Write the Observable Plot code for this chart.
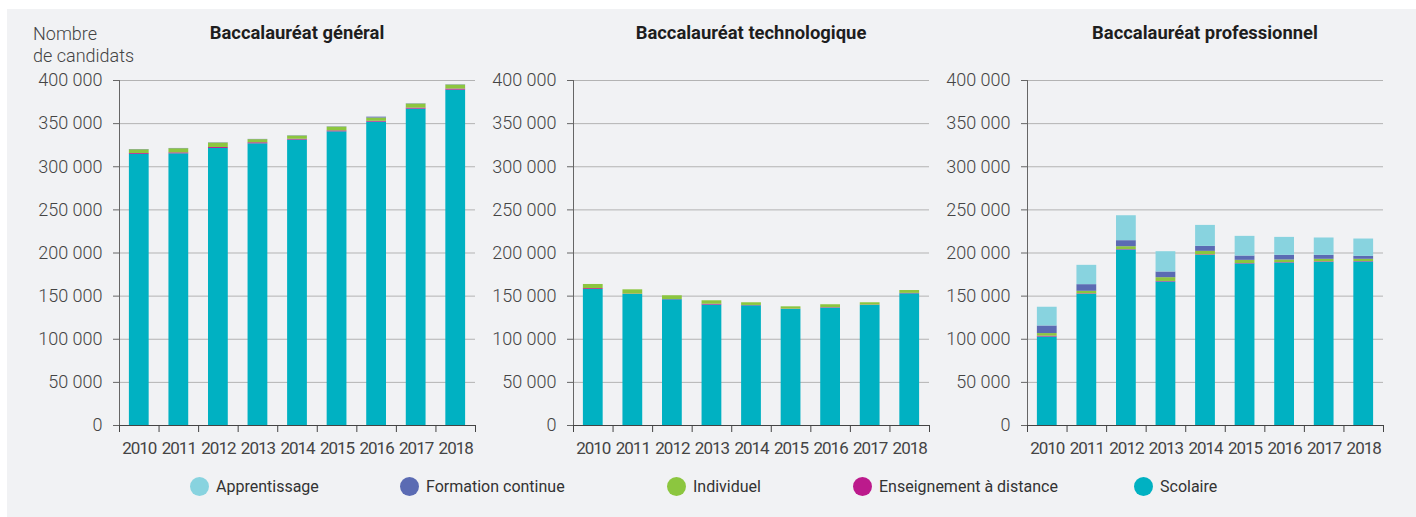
<!DOCTYPE html>
<html><head><meta charset="utf-8">
<script src="https://cdn.jsdelivr.net/npm/d3@7"></script>
<script src="https://cdn.jsdelivr.net/npm/@observablehq/plot@0.6"></script>
<style>
body{margin:0;width:1416px;height:517px;background:#fff;font-family:Roboto,sans-serif;overflow:hidden;position:relative}
#bg{position:absolute;left:7px;top:9px;right:0;bottom:0;background:#f1f2f4}
.panel{position:absolute;top:60px}
.title{position:absolute;font-weight:700;font-size:18.4px;line-height:18px;color:#1e1e1e;text-align:center;width:356px;top:24px;white-space:nowrap}
.ylab{position:absolute;left:33px;top:23px;font-size:18px;font-weight:300;line-height:22px;color:#444}
.legend-item{position:absolute;top:477px;display:flex;align-items:center;font-size:16px;color:#333;white-space:nowrap}
.sw{width:19px;height:19px;border-radius:50%;margin-right:7px;flex:none}
g[aria-label="x-axis tick label"] text{letter-spacing:-1px}
</style></head>
<body>
<div id="bg"></div>
<div class="ylab">Nombre<br>de candidats</div>
<div id="root"></div>
<script>
// ---- data (thousands of candidates) ----
const years = [2010, 2011, 2012, 2013, 2014, 2015, 2016, 2017, 2018];
const types = ["Scolaire", "Enseignement à distance", "Individuel", "Formation continue", "Apprentissage"];
const legendOrder = ["Apprentissage", "Formation continue", "Individuel", "Enseignement à distance", "Scolaire"];
const typeColors = ["#00b1c2", "#bc1a8c", "#8cc63f", "#5b6bb3", "#88d3df"];
const panelTitles = ["Baccalauréat général", "Baccalauréat technologique", "Baccalauréat professionnel"];
const yTicks = [0, 50000, 100000, 150000, 200000, 250000, 300000, 350000, 400000];

const generalScolaire    = [314.3, 315.0, 321.2, 326.6, 330.9, 340.5, 351.7, 366.8, 388.8];
const generalDistance    = [1.0, 1.1, 1.1, 1.2, 1.0, 1.1, 1.0, 1.2, 1.3];
const generalIndividuel  = [4.4, 4.8, 5.2, 3.6, 3.7, 4.4, 3.8, 4.7, 4.6];
const generalFormation   = [0.3, 0.3, 0.3, 0.3, 0.3, 0.3, 1.0, 0.3, 0.3];
const generalApprentis   = [0, 0, 0, 0, 0, 0, 0, 0, 0];

const technoScolaire     = [157.7, 151.9, 145.8, 139.6, 138.8, 134.6, 136.1, 139.2, 152.7];
const technoDistance     = [1.0, 0.4, 0.3, 1.0, 0.4, 0.3, 0.5, 0.4, 0.5];
const technoIndividuel   = [4.8, 5.0, 4.3, 4.0, 3.1, 2.7, 3.4, 2.7, 3.3];
const technoFormation    = [0, 0, 0, 0, 0, 0, 0, 0, 0];
const technoApprentis    = [0, 0, 0, 0, 0, 0, 0, 0, 0];

const proScolaire        = [102.6, 152.1, 203.5, 166.4, 197.3, 187.3, 188.4, 189.2, 189.6];
const proDistance        = [1.0, 0.6, 0.5, 0.6, 0.6, 0.5, 0.5, 0.6, 0.5];
const proIndividuel      = [3.0, 2.9, 3.3, 4.4, 4.0, 3.7, 3.0, 2.9, 2.6];
const proFormation       = [8.8, 7.7, 7.0, 6.6, 5.8, 5.0, 5.4, 4.6, 3.4];
const proApprentis       = [21.7, 22.4, 28.9, 23.5, 24.3, 22.8, 20.8, 20.1, 20.1];

const panels = [
  [generalScolaire, generalDistance, generalIndividuel, generalFormation, generalApprentis],
  [technoScolaire, technoDistance, technoIndividuel, technoFormation, technoApprentis],
  [proScolaire, proDistance, proIndividuel, proFormation, proApprentis]
];

const fmt = d => d3.format(",")(d).replace(/,/g, " ");
const bounds = years.map(y => y - 0.5).concat([years[years.length - 1] + 0.5]);
const root = document.getElementById("root");

panels.forEach((series, p) => {
  const rows = [];
  years.forEach((yr, i) => types.forEach((t, k) => {
    if (series[k][i] > 0) rows.push({year: yr, type: t, value: series[k][i] * 1000});
  }));
  const chart = Plot.plot({
    width: 454, height: 405,
    marginLeft: 92, marginRight: 6, marginTop: 20, marginBottom: 40,
    style: {background: "transparent", fontFamily: "Roboto, sans-serif", overflow: "visible"},
    x: {type: "linear", domain: [years[0] - 0.5, years[years.length - 1] + 0.5]},
    y: {domain: [0, 400000]},
    color: {domain: types, range: typeColors},
    marks: [
      Plot.gridY({ticks: yTicks, stroke: "#b3b3b3", strokeOpacity: 1, strokeWidth: 1}),
      Plot.rectY(rows, Plot.stackY({
        x1: d => d.year - 0.25, x2: d => d.year + 0.25,
        y: "value", fill: "type"
      })),
      Plot.axisY({ticks: yTicks, tickFormat: fmt, tickSize: 6, tickPadding: 11, fontSize: 18,
        fontWeight: 300, fill: "#444", stroke: "#666", label: null}),
      Plot.ruleX([years[0] - 0.5], {stroke: "#666"}),
      Plot.ruleY([0], {stroke: "#444"}),
      Plot.axisX({ticks: bounds, tickFormat: () => "", tickSize: 7, label: null, stroke: "#444"}),
      Plot.axisX({ticks: years, tickFormat: d => String(d), tickSize: 0, tickPadding: 16,
        fontSize: 17, fill: "#444", label: null})
    ]
  });
  const wrap = document.createElement("div");
  wrap.className = "panel";
  wrap.style.left = (27 + 454 * p) + "px";
  wrap.appendChild(chart);
  root.appendChild(wrap);
  const t = document.createElement("div");
  t.className = "title";
  t.style.left = (119 + 454 * p) + "px";
  t.textContent = panelTitles[p];
  root.appendChild(t);
});

const legendLefts = [190, 400, 667, 853, 1134];
legendOrder.forEach((name, i) => {
  const item = document.createElement("div");
  item.className = "legend-item";
  item.style.left = legendLefts[i] + "px";
  const sw = document.createElement("span");
  sw.className = "sw";
  sw.style.background = typeColors[types.indexOf(name)];
  const lab = document.createElement("span");
  lab.textContent = name;
  item.appendChild(sw); item.appendChild(lab);
  root.appendChild(item);
});
</script>
</body></html>
